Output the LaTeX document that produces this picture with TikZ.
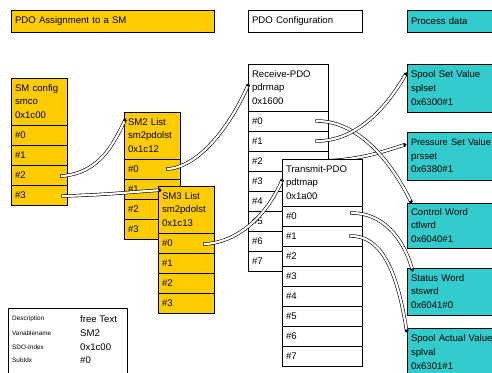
\documentclass[tikz,border=0pt]{standalone}
\usepackage{fontspec}
\setmainfont{Liberation Sans}
\usetikzlibrary{calc,arrows.meta,shadows}

\definecolor{smyellow}{HTML}{FFCC00}
\definecolor{pdteal}{HTML}{33CCCC}

\tikzset{
  boxline/.style={draw=black, line width=0.6pt, outer sep=0pt,
    drop shadow={shadow xshift=1pt, shadow yshift=-1pt, fill=black!40, opacity=1}},
  hdr/.style={boxline, rectangle, anchor=north west, inner xsep=4pt, inner ysep=0pt,
    align=left, minimum height=47pt,
    font=\fontsize{9.6}{13.6}\selectfont},
  slot/.style={boxline, rectangle, anchor=north west, inner xsep=4pt, inner ysep=0pt,
    align=left, minimum height=20pt, font=\fontsize{9.6}{11}\selectfont},
  titlebox/.style={boxline, rectangle, anchor=north west, inner xsep=4pt, inner ysep=0pt,
    align=left, minimum height=22pt, font=\fontsize{9.6}{11}\selectfont},
  legsmall/.style={anchor=west, inner sep=0pt, font=\fontsize{6.4}{7}\selectfont},
  legbig/.style={anchor=west, inner sep=0pt, font=\fontsize{9.6}{11}\selectfont},
  link/.style={draw=black, line width=0.6pt, double=white, double distance=2.2pt,
    line cap=rect, -{Latex[length=3.5pt,width=4pt]}}
}

% object list: header cell plus numbered sub-index rows
% #1 name, #2 x, #3 y, #4 width, #5 text width, #6 last index, #7 header, #8 fill
\newcommand\regbox[8]{%
  \node[hdr, fill=#8, minimum width=#4pt, text width=#5pt] (#1) at (#2,#3) {#7};
  \foreach \k in {0,...,#6}{
    \node[slot, fill=#8, minimum width=#4pt, text width=#5pt] (#1-\k)
      at ($(#1.south west)+(0,{20*\k})$) {\#\k};
  }%
}

\begin{document}
\begin{tikzpicture}[x=1pt,y=-1pt]
\useasboundingbox (0,0) rectangle (492,372);
\fill[white] (0,0) rectangle (492,372);
\clip (0,0) rectangle (492,372);

% column titles
\node[titlebox, fill=smyellow, minimum width=203pt, text width=195pt] (t1) at (11,10) {PDO Assignment to a SM};
\node[titlebox, fill=white, minimum width=114pt, text width=106pt] (t2) at (248,10) {PDO Configuration};
\node[titlebox, fill=pdteal, minimum width=100pt, text width=92pt] (t3) at (407,10) {Process data};

% legend
\node[boxline, rectangle, fill=white, anchor=north west, minimum width=119pt, minimum height=72pt] (leg) at (8,308) {};
\node[legsmall] (l1) at (12,319) {Description};
\node[legsmall] (l2) at (12,333) {Variablename};
\node[legsmall] (l3) at (12,347) {SDO-Index};
\node[legsmall] (l4) at (12,360) {SubIdx};
\node[legbig] (v1) at (80,319) {free Text};
\node[legbig] (v2) at (80,333) {SM2};
\node[legbig] (v3) at (80,347) {0x1c00};
\node[legbig] (v4) at (80,360) {\#0};

% sync manager assignment
\regbox{smc}{11}{78}{56}{48}{3}{SM config\\smco\\0x1c00}{smyellow}
\regbox{sma}{124}{112}{56}{48}{3}{SM2 List\\sm2pdolst\\0x1c12}{smyellow}
\regbox{smb}{158}{186}{56}{48}{3}{SM3 List\\sm2pdolst\\0x1c13}{smyellow}

% receive mapping
\regbox{rx}{248}{64}{80}{72}{7}{Receive-PDO\\pdrmap\\0x1600}{white}

% process data objects
\node[hdr, fill=pdteal, minimum width=100pt, text width=92pt, minimum height=48pt] (pss) at (407,64) {Spool Set Value\\splset\\0x6300\#1};
\node[hdr, fill=pdteal, minimum width=100pt, text width=92pt, minimum height=48pt] (pps) at (407,132) {{\fontsize{9.2}{13.6}\selectfont Pressure Set Value}\\prsset\\0x6380\#1};
\node[hdr, fill=pdteal, minimum width=100pt, text width=92pt, minimum height=45pt] (pcw) at (407,203) {Control Word\\ctlwrd\\0x6040\#1};
\node[hdr, fill=pdteal, minimum width=100pt, text width=92pt, minimum height=47pt] (psw) at (407,268) {Status Word\\stswrd\\0x6041\#0};
\node[hdr, fill=pdteal, minimum width=100pt, text width=92pt, minimum height=48pt] (psa) at (407,328) {Spool Actual Value\\splval\\0x6301\#1};

% mapping that runs behind the transmit object
\draw[link] ($(rx-2.east)+(-11,0)$) .. controls +(40,0) and +(-25,8) .. ($(pps.north west)+(0,12)$);

% transmit mapping
\regbox{tx}{282}{159}{80}{72}{7}{Transmit-PDO\\pdtmap\\0x1a00}{white}

% assignment links
\draw[link] ($(smc-2.east)+(-5,1)$) .. controls +(38,-3) and +(-12,25) .. ($(sma.north west)+(2,6)$);
\draw[link] ($(smc-3.east)+(-4,1)$) .. controls +(40,-1) and +(-30,2) .. ($(smb.north west)+(4,4)$);
\draw[link] ($(sma-0.east)+(-12,0)$) .. controls +(35,-3) and +(-15,35) .. ($(rx.north west)+(1,19)$);
\draw[link] ($(smb-0.east)+(-9,1)$) .. controls +(35,-2) and +(-15,35) .. ($(tx.north west)+(1,19)$);

% mapping links
\draw[link] ($(rx-0.east)+(-11,0)$) .. controls +(40,0) and +(-22,-45) .. ($(pcw.north west)+(5,1)$);
\draw[link] ($(rx-1.east)+(-11,0)$) .. controls +(40,0) and +(-20,35) .. ($(pss.north west)+(0,8)$);
\draw[link] ($(tx-0.east)+(-10,-3)$) .. controls +(30,0) and +(-10,-35) .. ($(psw.north west)+(6,4)$);
\draw[link] ($(tx-1.east)+(-11,0)$) .. controls +(35,0) and +(-8,-50) .. ($(psa.north west)+(0,5)$);
\end{tikzpicture}
\end{document}
